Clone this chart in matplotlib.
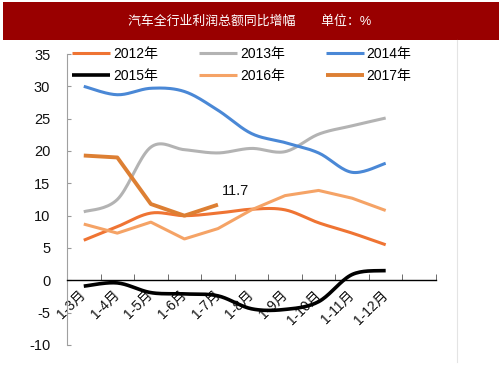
import numpy as np
import matplotlib
matplotlib.use("Agg")
import matplotlib.pyplot as plt
from matplotlib.patches import Rectangle
from matplotlib.lines import Line2D

plt.rcParams['font.family'] = ['Liberation Sans', 'Noto Sans CJK SC']
plt.rcParams['axes.unicode_minus'] = False

# data
months = ['1-3月', '1-4月', '1-5月', '1-6月', '1-7月', '1-8月', '1-9月', '1-10月', '1-11月', '1-12月']
y2012 = [6.2, 8.3, 10.4, 10.0, 10.4, 11.0, 10.9, 8.9, 7.3, 5.5]
y2013 = [10.6, 12.5, 20.6, 20.2, 19.7, 20.4, 19.9, 22.6, 23.9, 25.1]
y2014 = [30.0, 28.7, 29.7, 29.2, 26.3, 22.7, 21.3, 19.7, 16.7, 18.1]
y2015 = [-0.9, -0.4, -1.9, -2.1, -2.4, -4.4, -4.5, -3.3, 0.9, 1.5]
y2016 = [8.7, 7.3, 9.0, 6.4, 8.0, 10.9, 13.1, 13.9, 12.7, 10.8]
y2017 = [19.3, 19.0, 11.8, 10.0, 11.7]

title = '汽车全行业利润总额同比增幅　　单位：%'


def smooth(xs, ys, n=20):
    # excel-style smoothed line (catmull-rom as cubic bezier)
    xs = np.asarray(xs, float)
    ys = np.asarray(ys, float)
    px, py = [], []
    m = len(xs)
    for i in range(m - 1):
        x0, y0 = xs[max(i - 1, 0)], ys[max(i - 1, 0)]
        x1, y1 = xs[i], ys[i]
        x2, y2 = xs[i + 1], ys[i + 1]
        x3, y3 = xs[min(i + 2, m - 1)], ys[min(i + 2, m - 1)]
        c1x, c1y = x1 + (x2 - x0) / 6, y1 + (y2 - y0) / 6
        c2x, c2y = x2 - (x3 - x1) / 6, y2 - (y3 - y1) / 6
        t = np.linspace(0, 1, n)
        bx = (1 - t)**3 * x1 + 3 * (1 - t)**2 * t * c1x + 3 * (1 - t) * t**2 * c2x + t**3 * x2
        by = (1 - t)**3 * y1 + 3 * (1 - t)**2 * t * c1y + 3 * (1 - t) * t**2 * c2y + t**3 * y2
        px.extend(bx)
        py.extend(by)
    return px, py


fig = plt.figure(figsize=(5.03, 3.78), dpi=100)
W, H = 503, 378

# title bar
fig.add_artist(Rectangle((3 / W, 1 - 40 / H), 496 / W, 38 / H, transform=fig.transFigure,
                         facecolor='#990000', edgecolor='none'))
fig.text(250 / W, 1 - 21 / H, title, color='white', fontsize=9.3, ha='center', va='center')
fig.add_artist(Line2D([457 / W, 457 / W], [1 - 40 / H, 1 - 362 / H], transform=fig.transFigure,
                      color='#e4e4e4', lw=0.8))

ax = fig.add_axes([67 / W, 1 - 345 / H, 369 / W, 291 / H])
x = np.arange(len(months))

c2012 = '#ef7433'
c2013 = '#b3b3b3'
c2014 = '#4a88d6'
c2015 = '#000000'
c2016 = '#f5a366'
c2017 = '#dd7f33'

l12, = ax.plot(*smooth(x, y2012), color=c2012, lw=2.2, label='2012年', solid_capstyle='butt')
l13, = ax.plot(*smooth(x, y2013), color=c2013, lw=2.2, label='2013年', solid_capstyle='butt')
l14, = ax.plot(*smooth(x, y2014), color=c2014, lw=2.2, label='2014年', solid_capstyle='butt')
l15, = ax.plot(*smooth(x, y2015), color=c2015, lw=2.6, label='2015年', solid_capstyle='butt')
l16, = ax.plot(x, y2016, color=c2016, lw=2.2, label='2016年', solid_capstyle='butt')
l17, = ax.plot(x[:len(y2017)], y2017, color=c2017, lw=2.8, label='2017年', solid_capstyle='butt')

ax.annotate(f'{y2017[-1]}', xy=(len(y2017) - 1, y2017[-1]), xytext=(3, 9.5),
            textcoords='offset points', fontsize=10.5, color='#111111', va='center', ha='left')

ax.set_xlim(-0.5, len(months) + 0.5)
ax.set_ylim(-10, 35)
ax.set_yticks(np.arange(-10, 36, 5))
ax.tick_params(axis='y', direction='in', length=3, pad=12, labelsize=10.5,
               color='#999999', labelcolor='#111111')

ax.spines['top'].set_visible(False)
ax.spines['right'].set_visible(False)
ax.spines['left'].set_color('#a0a0a0')
ax.spines['bottom'].set_position(('data', 0))
ax.spines['bottom'].set_color('black')
ax.spines['bottom'].set_linewidth(1.0)

ax.set_xticks(x)
ax.set_xticklabels(months, rotation=45, ha='right', va='center', rotation_mode='anchor')
ax.set_xticks(np.arange(-0.5, len(months) + 1, 1), minor=True)
ax.tick_params(axis='x', which='major', length=0, pad=9, labelsize=10, labelcolor='#111111')
ax.tick_params(axis='x', which='minor', direction='in', length=4, color='#555555')

ax.legend(handles=[l12, l15, l13, l16, l14, l17], ncol=3, frameon=False, fontsize=10,
          loc='upper left', bbox_to_anchor=(72 / W, 1 - 47 / H), bbox_transform=fig.transFigure,
          borderaxespad=0, borderpad=0, handlelength=2.75, handletextpad=0.2,
          columnspacing=2.95, labelspacing=0.6)

fig.savefig('out.png', dpi=100, facecolor='white')
